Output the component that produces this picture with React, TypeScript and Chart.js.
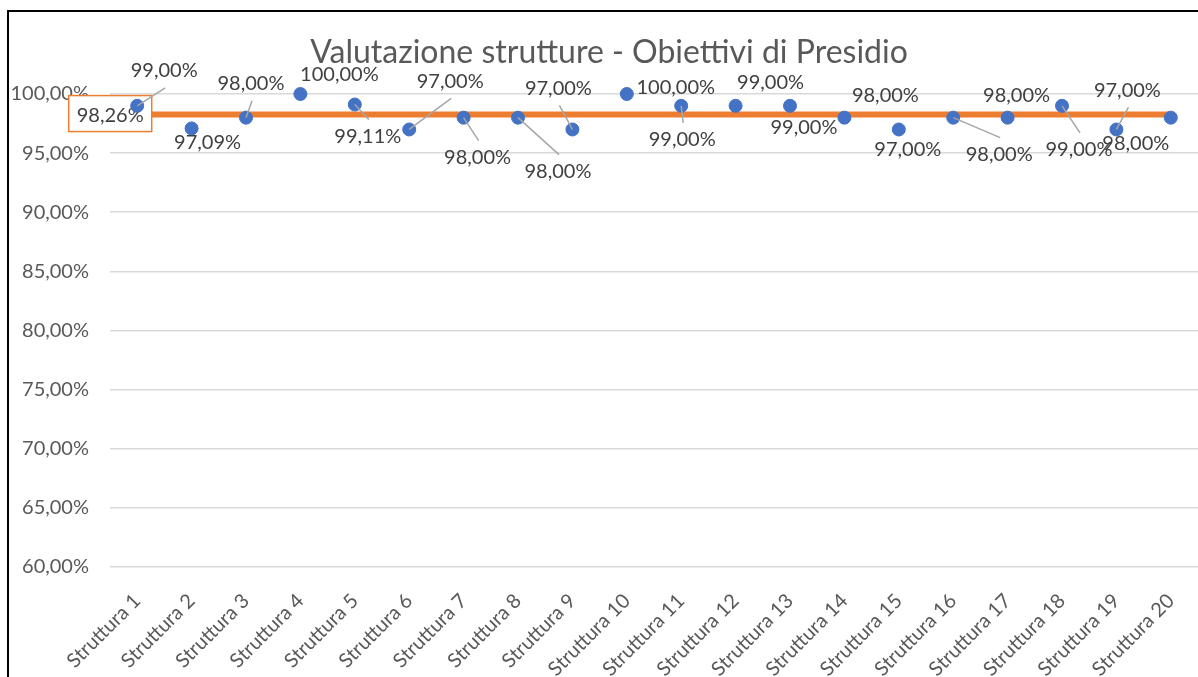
import React, { useEffect, useRef } from 'react';
import { Chart, registerables } from 'chart.js';

Chart.register(...registerables);

const chartTitle = 'Valutazione strutture - Obiettivi di Presidio';

const categories = [
  'Struttura 1', 'Struttura 2', 'Struttura 3', 'Struttura 4', 'Struttura 5',
  'Struttura 6', 'Struttura 7', 'Struttura 8', 'Struttura 9', 'Struttura 10',
  'Struttura 11', 'Struttura 12', 'Struttura 13', 'Struttura 14', 'Struttura 15',
  'Struttura 16', 'Struttura 17', 'Struttura 18', 'Struttura 19', 'Struttura 20',
];

const scores = [
  0.99, 0.9709, 0.98, 1.0, 0.9911, 0.97, 0.98, 0.98, 0.97, 1.0,
  0.99, 0.99, 0.99, 0.98, 0.97, 0.98, 0.98, 0.99, 0.97, 0.98,
];

const presidioAverage = [
  0.9826, 0.9826, 0.9826, 0.9826, 0.9826, 0.9826, 0.9826, 0.9826, 0.9826, 0.9826,
  0.9826, 0.9826, 0.9826, 0.9826, 0.9826, 0.9826, 0.9826, 0.9826, 0.9826, 0.9826,
];

const yMin = 0.6;
const yMax = 1.0;
const yStep = 0.05;

// manual label placement (Excel-style), relative to each point, in px
const labelOffsets: [number, number][] = [
  [27, -35], [16, 14], [5, -34], [39, -19], [13, 32],
  [41, -48], [14, 40], [40, 54], [-14, -41], [49, -6],
  [1, 34], [35, -23], [14, 22], [41, -22], [9, 20],
  [46, 37], [9, -22], [17, 44], [11, -39], [-35, 26],
];
const leaderLines = [
  true, false, true, false, true,
  true, true, true, true, false,
  true, false, false, false, false,
  true, false, true, true, false,
];
const averageLabelOffset: [number, number] = [-27, -1];

const FONT = 'Lato, "Noto Sans", sans-serif';
const AXIS_COLOR = '#595959';
const LABEL_COLOR = '#404040';
const BLUE = '#4472C4';
const ORANGE = '#ED7D31';

const pct = (v: number) => (v * 100).toFixed(2).replace('.', ',') + '%';

const framePlugin = {
  id: 'frame',
  beforeDraw(chart: any) {
    const ctx = chart.ctx;
    ctx.save();
    ctx.fillStyle = '#ffffff';
    ctx.fillRect(0, 0, chart.width, chart.height);
    ctx.fillStyle = '#000000';
    ctx.fillRect(7, 10, chart.width - 7, 2);
    ctx.fillRect(7, 10, 2, chart.height - 10);
    ctx.fillStyle = AXIS_COLOR;
    ctx.font = `32px ${FONT}`;
    ctx.textAlign = 'center';
    ctx.textBaseline = 'middle';
    ctx.fillText(chartTitle, 609, 53);
    ctx.restore();
  },
};

const labelsPlugin = {
  id: 'manualLabels',
  afterDatasetDraw(chart: any, args: any) {
    const ctx = chart.ctx;
    if (args.index === 1) {
      const meta = chart.getDatasetMeta(1);
      const p = meta.data[0];
      const cx = p.x + averageLabelOffset[0];
      const cy = p.y + averageLabelOffset[1];
      const w = 83;
      const h = 36;
      ctx.save();
      ctx.fillStyle = '#ffffff';
      ctx.fillRect(cx - w / 2, cy - h / 2, w, h);
      ctx.strokeStyle = ORANGE;
      ctx.lineWidth = 1.5;
      ctx.strokeRect(cx - w / 2, cy - h / 2, w, h);
      ctx.fillStyle = LABEL_COLOR;
      ctx.font = `20px ${FONT}`;
      ctx.textAlign = 'center';
      ctx.textBaseline = 'middle';
      ctx.fillText(pct(presidioAverage[0]), cx, cy + 2);
      ctx.restore();
    }
  },
  afterDatasetsDraw(chart: any) {
    const ctx = chart.ctx;
    const meta = chart.getDatasetMeta(0);
    ctx.save();
    ctx.font = `20px ${FONT}`;
    ctx.textAlign = 'center';
    ctx.textBaseline = 'middle';
    meta.data.forEach((p: any, i: number) => {
      const [dx, dy] = labelOffsets[i];
      const cx = p.x + dx;
      const cy = p.y + dy;
      if (leaderLines[i]) {
        const ey = dy < 0 ? cy + 17 : cy - 17;
        ctx.strokeStyle = '#A6A6A6';
        ctx.lineWidth = 1.5;
        ctx.beginPath();
        ctx.moveTo(p.x, p.y);
        ctx.lineTo(cx + 1, ey);
        ctx.stroke();
      }
      ctx.fillStyle = LABEL_COLOR;
      ctx.fillText(pct(scores[i]), cx, cy);
    });
    ctx.restore();
  },
};

export default function App() {
  const canvasRef = useRef<HTMLCanvasElement | null>(null);

  useEffect(() => {
    document.body.style.margin = '0';
    const canvas = canvasRef.current;
    if (!canvas) return;
    const chart = new Chart(canvas, {
      type: 'line',
      data: {
        labels: categories,
        datasets: [
          {
            label: 'Valutazione',
            data: scores,
            showLine: false,
            pointRadius: 6.5,
            pointBackgroundColor: BLUE,
            pointBorderColor: BLUE,
            pointBorderWidth: 1,
            clip: false,
            order: 1,
          },
          {
            label: 'Media Presidio',
            data: presidioAverage,
            borderColor: ORANGE,
            backgroundColor: ORANGE,
            borderWidth: 6,
            pointRadius: 0,
            fill: false,
            clip: false,
            order: 2,
          },
        ],
      },
      options: {
        responsive: false,
        animation: false,
        layout: { autoPadding: false, padding: { top: 94, left: 0, right: 0, bottom: 0 } },
        plugins: {
          legend: { display: false },
          title: { display: false },
          tooltip: { enabled: false },
        },
        scales: {
          x: {
            offset: true,
            grid: { display: false },
            border: { display: false },
            ticks: {
              color: AXIS_COLOR,
              font: { family: FONT, size: 20 },
              minRotation: 45,
              maxRotation: 45,
              autoSkip: false,
              padding: 14,
            },
            afterFit: (scale: any) => {
              scale.height = 110;
              scale.paddingRight = 0;
              scale.paddingLeft = 0;
            },
          },
          y: {
            min: yMin,
            max: yMax,
            grid: { color: '#D9D9D9', lineWidth: 1.5, drawTicks: false },
            border: { display: false },
            ticks: {
              stepSize: yStep,
              color: AXIS_COLOR,
              font: { family: FONT, size: 20 },
              padding: 21,
              callback: (v: any) => pct(Number(v)),
            },
            afterFit: (scale: any) => {
              scale.width = 110;
            },
          },
        },
      },
      plugins: [framePlugin, labelsPlugin],
    });
    return () => chart.destroy();
  }, []);

  return (
    <div style={{ width: 1198, height: 677 }}>
      <canvas ref={canvasRef} width={1198} height={677} style={{ display: 'block' }} />
    </div>
  );
}
